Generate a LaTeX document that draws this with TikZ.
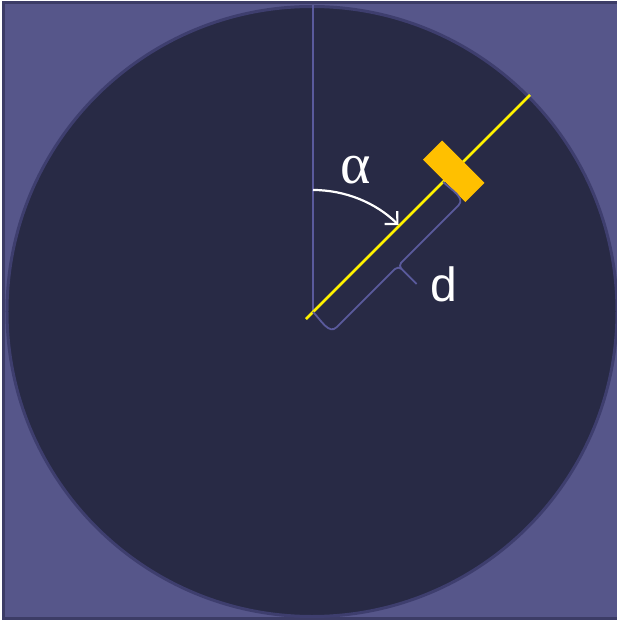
\documentclass[tikz,border=0pt]{standalone}
\usepackage{fontspec}
\setmainfont{Liberation Sans}
\newfontfamily\greekserif{Liberation Serif}
\usetikzlibrary{arrows.meta}

\definecolor{boxpurple}{HTML}{56568A}
\definecolor{boxedge}{HTML}{3C3C66}
\definecolor{discnavy}{HTML}{282A45}
\definecolor{rimpurple}{HTML}{3E3E6E}
\definecolor{guideblue}{HTML}{5A5A9C}
\definecolor{sensororange}{HTML}{FFC000}

\begin{document}
\begin{tikzpicture}[
    x=1pt, y=1pt,
    frame/.style={fill=boxpurple, draw=boxedge, line width=3pt},
    dial/.style={fill=discnavy, draw=rimpurple, line width=3pt},
    guide/.style={draw=guideblue, line width=1.8pt},
    beam/.style={draw=yellow, line width=2.5pt},
    anglearrow/.style={draw=white, line width=2.2pt, -{Straight Barb[length=9pt,width=18pt]}},
    sensor/.style={rectangle, fill=sensororange, minimum width=27pt, minimum height=60pt, inner sep=0pt, rotate=45},
    bigtext/.style={text=white, inner sep=0pt, font=\fontsize{48}{50}\selectfont}
]
\useasboundingbox (-313,-309) rectangle (304,312);

% Background and disc
\draw[frame] (-309,-306) rectangle (307,309);
\draw[dial] (-1,0.5) circle[radius=305];

% Reference points
\coordinate (pivot) at (0,0);
\coordinate (top) at (0,307);
\coordinate (beamstart) at (225:10);
\coordinate (beamend) at (45:307);
\coordinate (arcstart) at (0,122);

% Vertical reference and beam
\draw[guide] (pivot) -- (top);
\draw[beam] (beamstart) -- (beamend);

% Sensor on the beam
\node[sensor] (block) at (45:199) {};

% Angle alpha
\draw[anglearrow] (arcstart) arc[start angle=90, end angle=45.5, radius=122];
\node[bigtext, font=\greekserif\fontsize{58}{60}\selectfont] (alpha) at (42.5,142) {α};

% Brace for distance d
\begin{scope}[rotate=45]
\draw[guide] (pivot) to[out=-90,in=180] (6,-27.5) -- (88,-27.5)
    to[out=0,in=90] (93,-32) to[out=90,in=180] (97,-27.5) -- (178,-27.5)
    to[out=0,in=-90] (184,0);
\draw[guide] (93,-32) -- (93,-53.5);
\end{scope}
\node[bigtext] (dist) at (131,28) {d};

\end{tikzpicture}
\end{document}
